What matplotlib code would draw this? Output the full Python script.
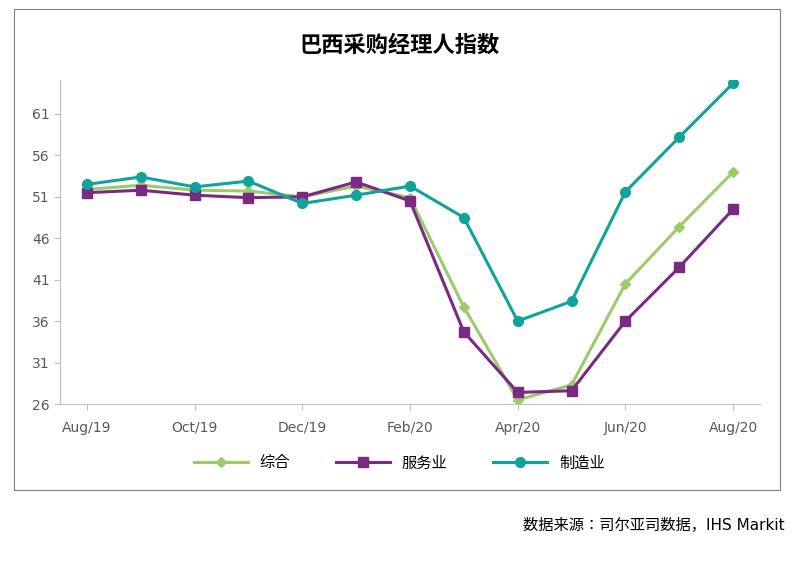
import matplotlib.pyplot as plt
from matplotlib import font_manager
from matplotlib.patches import Rectangle

cjk = [f.name for f in font_manager.fontManager.ttflist if 'CJK' in f.name]
plt.rcParams['font.family'] = ['DejaVu Sans'] + sorted(set(cjk)) + ['Noto Sans CJK SC', 'Noto Sans CJK JP']

months = ['Aug/19', 'Sep/19', 'Oct/19', 'Nov/19', 'Dec/19', 'Jan/20', 'Feb/20',
          'Mar/20', 'Apr/20', 'May/20', 'Jun/20', 'Jul/20', 'Aug/20']
composite = [51.9, 52.4, 51.8, 51.7, 51.0, 52.3, 50.9, 37.7, 26.5, 28.3, 40.5, 47.4, 54.0]
services = [51.5, 51.8, 51.2, 50.9, 51.0, 52.8, 50.5, 34.7, 27.4, 27.6, 36.0, 42.5, 49.5]
manufacturing = [52.5, 53.4, 52.2, 52.9, 50.2, 51.2, 52.3, 48.5, 36.0, 38.4, 51.6, 58.2, 64.7]
yticks = [26, 31, 36, 41, 46, 51, 56, 61]

fig = plt.figure(figsize=(7.99, 5.79), dpi=100)
fig.patches.append(Rectangle((14 / 799, 1 - 490 / 579), 766 / 799, 481 / 579,
                             transform=fig.transFigure, fill=False,
                             edgecolor='#808080', linewidth=0.8))
ax = fig.add_axes([60 / 799, 1 - 404 / 579, 700 / 799, 324 / 579])

x = range(len(months))
ax.plot(x, composite, color='#9ccb6b', marker='D', markersize=5, linewidth=2.2, label='综合')
ax.plot(x, services, color='#7a2a82', marker='s', markersize=7, linewidth=2.2, label='服务业')
ax.plot(x, manufacturing, color='#10a39b', marker='o', markersize=7, linewidth=2.2, label='制造业')

ax.set_xlim(-0.5, 12.5)
ax.set_ylim(26, 65.1)
ax.set_yticks(yticks)
ax.set_xticks(range(0, 13, 2))
ax.set_xticklabels(months[::2])
ax.tick_params(labelsize=10, colors='#595959', length=4, color='#bfbfbf')
ax.tick_params(axis='x', pad=8)
for s in ['top', 'right']:
    ax.spines[s].set_visible(False)
ax.spines['left'].set_color('#bfbfbf')
ax.spines['bottom'].set_color('#bfbfbf')

fig.text(0.5, 1 - 45 / 579, '巴西采购经理人指数', ha='center', va='center',
         fontsize=16, fontweight='bold')
fig.legend(loc='center', bbox_to_anchor=(0.5, 1 - 463 / 579), ncol=3, frameon=False,
           fontsize=11, handlelength=3.5, columnspacing=3)
fig.text(785 / 799, 1 - 525 / 579, '数据来源：司尔亚司数据，IHS Markit', ha='right',
         va='center', fontsize=11)

plt.savefig('out.png', dpi=100)
